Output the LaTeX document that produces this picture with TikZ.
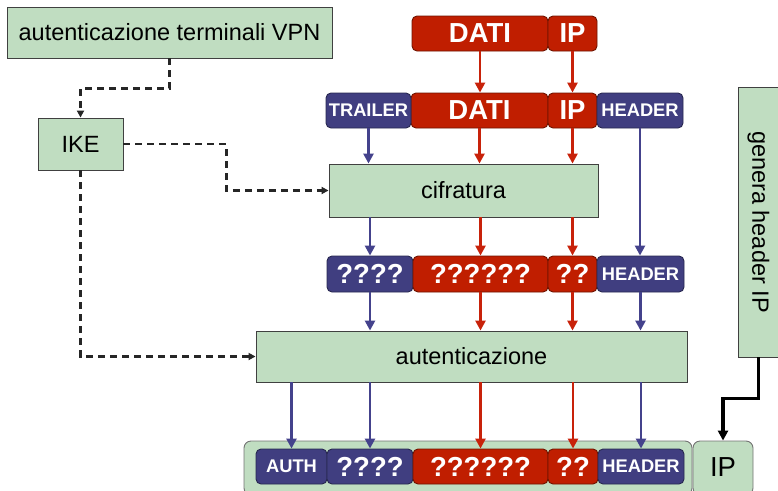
\documentclass[tikz,border=0pt]{standalone}
\usepackage{fontspec}
\setmainfont{Liberation Sans}
\usetikzlibrary{arrows.meta,calc}

\definecolor{boxgreen}{RGB}{192,221,193}
\definecolor{pktred}{RGB}{192,30,0}
\definecolor{pktredline}{RGB}{110,20,0}
\definecolor{pktblue}{RGB}{64,62,128}
\definecolor{pktblueline}{RGB}{40,40,80}
\definecolor{arrblue}{RGB}{68,66,140}
\definecolor{arrred}{RGB}{200,34,10}

\tikzset{
  stage/.style={draw=black!75, line width=0.9pt, fill=boxgreen, inner sep=0pt,
    font=\fontsize{23.5}{26}\selectfont},
  field/.style={rounded corners=5pt, line width=0.9pt, inner sep=0pt,
    text=white, font=\bfseries},
  redfield/.style={field, fill=pktred, draw=pktredline},
  bluefield/.style={field, fill=pktblue, draw=pktblueline},
  bigtext/.style={font=\fontsize{27.5}{30}\bfseries\selectfont},
  smalltext/.style={font=\fontsize{18.3}{20}\bfseries\selectfont},
  wrapbox/.style={rounded corners=7pt, draw=black!55, line width=0.9pt,
    fill=boxgreen, inner sep=0pt},
  redarrow/.style={draw=arrred, line width=2.8pt, -{Triangle[length=10pt,width=10pt]}},
  bluearrow/.style={draw=arrblue, line width=2.8pt, -{Triangle[length=10pt,width=10pt]}},
  keyarrow/.style={draw=black!85, line width=2.1pt, dash pattern=on 7pt off 5pt,
    -{Triangle[length=7pt,width=7pt]}},
  hdrarrow/.style={draw=black, line width=3.2pt, -{Triangle[length=10pt,width=10pt]}},
}

\begin{document}
\begin{tikzpicture}[x=1pt, y=-1pt]
\useasboundingbox (0,0) rectangle (778,490);
\clip (0,0) rectangle (778,490);

% control boxes
\node[stage, minimum width=325pt, minimum height=51pt] (vpn) at (169.5,32.5) {autenticazione terminali VPN};
\node[stage, minimum width=85pt, minimum height=52pt] (ike) at (80.5,144) {IKE};
\node[stage, minimum width=269pt, minimum height=53pt] (cifr) at (463.5,190.5) {cifratura};
\node[stage, minimum width=431pt, minimum height=51pt] (auth) at (471.5,356.5) {autenticazione};
\node[stage, minimum width=270pt, minimum height=41pt, rotate=-90] (gen) at (758.5,222) {genera header IP};

% original packet
\node[redfield, bigtext, minimum width=136pt, minimum height=35pt] (dA) at (480,33.5) {DATI};
\node[redfield, bigtext, minimum width=49pt, minimum height=35pt] (ipA) at (572.5,33.5) {IP};

% packet with trailer and header
\node[redfield, bigtext, minimum width=137pt, minimum height=35pt] (dB) at (479.5,110.5) {DATI};
\node[redfield, bigtext, minimum width=49pt, minimum height=35pt] (ipB) at (572.5,110.5) {IP};
\node[bluefield, smalltext, minimum width=85pt, minimum height=35pt] (trB) at (368.5,110.5) {TRAILER};
\node[bluefield, smalltext, minimum width=86pt, minimum height=35pt] (hdB) at (640,110.5) {HEADER};

% encrypted packet
\node[bluefield, bigtext, minimum width=86pt, minimum height=36pt] (trC) at (370,274) {????};
\node[redfield, bigtext, minimum width=135pt, minimum height=36pt] (dC) at (480.5,274) {??????};
\node[redfield, bigtext, minimum width=49pt, minimum height=36pt] (ipC) at (572.5,274) {??};
\node[bluefield, smalltext, minimum width=87pt, minimum height=36pt] (hdC) at (640.5,274) {HEADER};

% final packet
\node[wrapbox, minimum width=448pt, minimum height=54pt] (pkt) at (468,468) {};
\node[wrapbox, minimum width=60pt, minimum height=54pt, font=\fontsize{27.5}{30}\selectfont] (ipD) at (723,468) {\raisebox{2pt}{IP}};
\node[bluefield, smalltext, minimum width=71pt, minimum height=35pt] (auD) at (291.5,466.5) {AUTH};
\node[bluefield, bigtext, minimum width=86pt, minimum height=35pt] (trD) at (370,466.5) {????};
\node[redfield, bigtext, minimum width=135pt, minimum height=35pt] (dD) at (480.5,466.5) {??????};
\node[redfield, bigtext, minimum width=50pt, minimum height=35pt] (ipD2) at (573,466.5) {??};
\node[bluefield, smalltext, minimum width=86pt, minimum height=35pt] (hdD) at (641,466.5) {HEADER};

% data flow
\draw[redarrow] (dA.south) -- (dA.south |- dB.north);
\draw[redarrow] (ipA.south) -- (ipA.south |- ipB.north);

\draw[bluearrow] (trB.south) -- (trB.south |- cifr.north);
\draw[redarrow] (dB.south) -- (dB.south |- cifr.north);
\draw[redarrow] (ipB.south) -- (ipB.south |- cifr.north);
\draw[bluearrow] (hdB.south) -- (hdB.south |- hdC.north);

\draw[bluearrow] (trC.north |- cifr.south) -- (trC.north);
\draw[redarrow] (dC.north |- cifr.south) -- (dC.north);
\draw[redarrow] (ipC.north |- cifr.south) -- (ipC.north);

\draw[bluearrow] (trC.south) -- (trC.south |- auth.north);
\draw[redarrow] (dC.south) -- (dC.south |- auth.north);
\draw[redarrow] (ipC.south) -- (ipC.south |- auth.north);
\draw[bluearrow] (hdC.south) -- (hdC.south |- auth.north);

\draw[bluearrow] (auD.north |- auth.south) -- (auD.north);
\draw[bluearrow] (trD.north |- auth.south) -- (trD.north);
\draw[redarrow] (dD.north |- auth.south) -- (dD.north);
\draw[redarrow] (ipD2.north |- auth.south) -- (ipD2.north);
\draw[bluearrow] (hdD.north |- auth.south) -- (hdD.north);

% key management
\draw[keyarrow] (vpn.south) -- ++(0,30) -| (ike.north);
\draw[keyarrow] (ike.east) -- ++(103,0) |- (cifr.west);
\draw[keyarrow] (ike.south) |- (auth.west);

% new IP header
\draw[hdrarrow] (gen.east) -- ++(0,41) -| (ipD.north);
\end{tikzpicture}
\end{document}
